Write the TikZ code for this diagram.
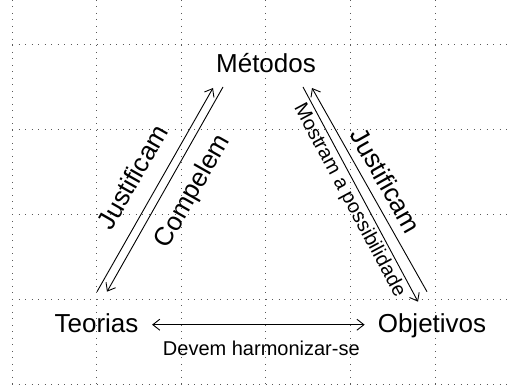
\documentclass[tikz,border=0pt]{standalone}
\usepackage{fontspec}
\setmainfont{Liberation Sans}
\usetikzlibrary{arrows.meta}

\begin{document}
\begin{tikzpicture}[x=1pt,y=1pt,>={Straight Barb[length=7pt,width=11pt]},
  gridline/.style={draw=black!65,line width=1pt,dash pattern=on 1pt off 5.5pt},
  concept/.style={inner sep=0pt,anchor=base,font=\fontsize{26}{30}\selectfont},
  relation/.style={line width=0.9pt},
  biglabel/.style={sloped,inner sep=2pt,font=\fontsize{26}{30}\selectfont},
  smalllabel/.style={inner sep=2pt,font=\fontsize{20}{24}\selectfont}]
  \useasboundingbox (0,0) rectangle (512,386);
  % dotted grid
  \foreach \gx in {12,96.6,181.2,265.8,350.4,435}
    \draw[gridline] (\gx,386) -- (\gx,1);
  \foreach \gy in {1,86,171,256,341}
    \draw[gridline] (12,\gy) -- (512,\gy);
  % concepts
  \node[concept] (met) at (266,313) {Métodos};
  \node[concept] (teo) at (96.5,53.3) {Teorias};
  \node[concept] (obj) at (432,53.3) {Objetivos};
  % relations
  \draw[relation,->] ([shift={(0.5,41)}]teo.base) -- ([shift={(-53,-15)}]met.base)
    node[biglabel,midway,above=14pt] {Justificam};
  \draw[relation,->] ([shift={(-43,-14)}]met.base) -- ([shift={(10.5,41)}]teo.base)
    node[biglabel,pos=0.45,below=11pt] {Compelem};
  \draw[relation,->] ([shift={(37,-14)}]met.base) -- ([shift={(-14,31)}]obj.base)
    node[smalllabel,sloped,midway,below=1pt] {Mostram a possibilidade};
  \draw[relation,->] ([shift={(-5,41)}]obj.base) -- ([shift={(46,-15)}]met.base)
    node[biglabel,midway,above=7pt] {Justificam};
  \draw[relation,<->] ([shift={(13.5,8)}]teo.base east) -- ([shift={(-13,8)}]obj.base west)
    node[smalllabel,midway,below=14pt,xshift=3pt] {Devem harmonizar-se};
\end{tikzpicture}
\end{document}
